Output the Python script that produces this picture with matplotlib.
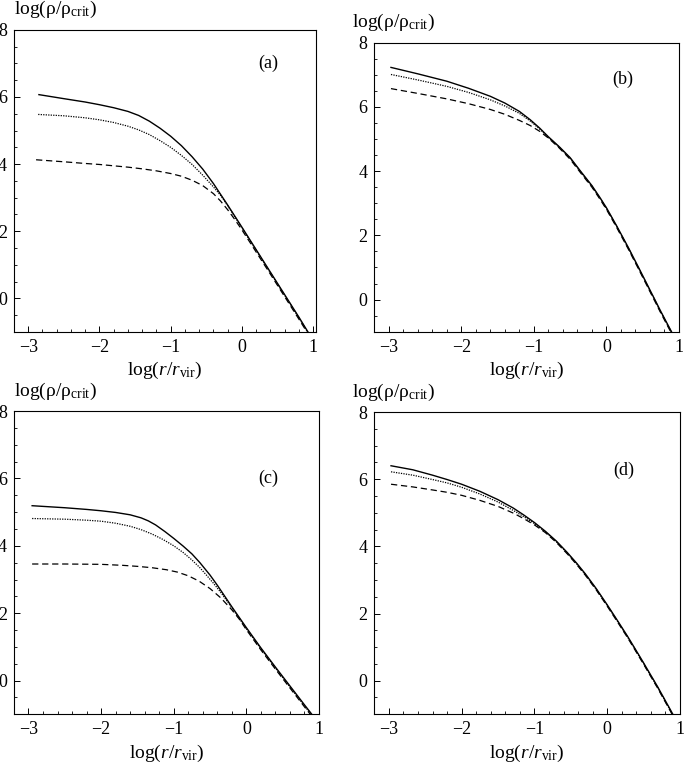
import matplotlib
matplotlib.use("Agg")
import matplotlib.pyplot as plt
from matplotlib.ticker import MultipleLocator

plt.rcParams["font.family"] = ["Liberation Serif", "DejaVu Serif"]
plt.rcParams["mathtext.fontset"] = "custom"
plt.rcParams["mathtext.rm"] = "Liberation Serif"
plt.rcParams["mathtext.it"] = "Liberation Serif:italic"

# panel (a)
a_x_solid = [-2.85, -2.5, -2.2, -2.0, -1.8, -1.6, -1.45, -1.3, -1.15, -1.0, -0.85, -0.7, -0.55, -0.4, -0.2, 0.0, 0.2, 0.4, 0.6, 0.8, 0.95]
a_y_solid = [6.07, 5.95, 5.85, 5.77, 5.68, 5.57, 5.45, 5.28, 5.07, 4.83, 4.55, 4.22, 3.85, 3.42, 2.78, 2.12, 1.45, 0.78, 0.11, -0.56, -1.08]
a_x_dot = [-2.86, -2.5, -2.2, -2.0, -1.8, -1.6, -1.45, -1.3, -1.15, -1.0, -0.85, -0.7, -0.55, -0.4, -0.3, -0.2, 0.0, 0.2, 0.4, 0.6, 0.8, 0.95]
a_y_dot = [5.48, 5.44, 5.38, 5.32, 5.24, 5.13, 5.02, 4.88, 4.70, 4.50, 4.26, 3.99, 3.67, 3.32, 3.07, 2.76, 2.10, 1.43, 0.76, 0.09, -0.58, -1.10]
a_x_dash = [-2.89, -2.5, -2.2, -2.0, -1.8, -1.6, -1.4, -1.2, -1.0, -0.85, -0.7, -0.55, -0.4, -0.3, -0.2, -0.1, 0.0, 0.2, 0.4, 0.6, 0.8, 0.95]
a_y_dash = [4.13, 4.07, 4.02, 3.99, 3.95, 3.91, 3.86, 3.80, 3.72, 3.64, 3.52, 3.36, 3.12, 2.90, 2.64, 2.35, 2.04, 1.38, 0.72, 0.05, -0.62, -1.13]

# panel (b)
b_x_solid = [-2.97, -2.6, -2.2, -1.9, -1.6, -1.4, -1.2, -1.05, -0.92, -0.8, -0.65, -0.5, -0.35, -0.2, -0.09, 0.0, 0.14, 0.3, 0.45, 0.6, 0.75, 0.92]
b_y_solid = [7.23, 7.03, 6.80, 6.58, 6.33, 6.12, 5.86, 5.60, 5.34, 5.07, 4.76, 4.42, 3.98, 3.55, 3.18, 2.86, 2.30, 1.63, 0.97, 0.30, -0.37, -1.10]
b_x_dot = [-2.97, -2.6, -2.2, -1.9, -1.6, -1.4, -1.2, -1.05, -0.92, -0.8, -0.65, -0.5, -0.35, -0.2, -0.09, 0.0, 0.14, 0.3, 0.45, 0.6, 0.75, 0.92]
b_y_dot = [7.01, 6.84, 6.64, 6.45, 6.22, 6.03, 5.80, 5.56, 5.31, 5.05, 4.74, 4.40, 3.96, 3.53, 3.16, 2.84, 2.28, 1.61, 0.95, 0.28, -0.39, -1.12]
b_x_dash = [-2.97, -2.6, -2.2, -1.9, -1.6, -1.4, -1.2, -1.05, -0.92, -0.8, -0.65, -0.5, -0.35, -0.2, -0.09, 0.0, 0.14, 0.3, 0.45, 0.6, 0.75, 0.92]
b_y_dash = [6.57, 6.42, 6.25, 6.10, 5.92, 5.77, 5.58, 5.42, 5.24, 5.03, 4.72, 4.37, 3.93, 3.50, 3.13, 2.81, 2.25, 1.58, 0.92, 0.25, -0.42, -1.15]

# panel (c)
c_x_solid = [-2.95, -2.5, -2.2, -2.0, -1.8, -1.6, -1.45, -1.35, -1.25, -1.12, -1.0, -0.87, -0.75, -0.64, -0.5, -0.4, -0.2, 0.0, 0.2, 0.4, 0.6, 0.8, 0.93]
c_y_solid = [5.19, 5.13, 5.08, 5.04, 4.99, 4.92, 4.83, 4.74, 4.62, 4.42, 4.22, 3.99, 3.76, 3.50, 3.13, 2.83, 2.19, 1.57, 0.97, 0.40, -0.16, -0.72, -1.08]
c_x_dot = [-2.95, -2.5, -2.2, -2.0, -1.8, -1.6, -1.45, -1.3, -1.15, -1.0, -0.87, -0.75, -0.64, -0.55, -0.45, -0.35, -0.2, 0.0, 0.2, 0.4, 0.6, 0.8, 0.93]
c_y_dot = [4.81, 4.79, 4.76, 4.73, 4.67, 4.58, 4.48, 4.35, 4.19, 4.00, 3.80, 3.58, 3.35, 3.13, 2.88, 2.61, 2.16, 1.54, 0.94, 0.37, -0.19, -0.75, -1.11]
c_x_dash = [-2.95, -2.5, -2.0, -1.7, -1.5, -1.3, -1.1, -0.95, -0.8, -0.65, -0.5, -0.35, -0.2, -0.1, 0.0, 0.2, 0.4, 0.6, 0.8, 0.93]
c_y_dash = [3.46, 3.46, 3.45, 3.42, 3.39, 3.35, 3.29, 3.22, 3.11, 2.95, 2.73, 2.45, 2.10, 1.83, 1.51, 0.91, 0.34, -0.22, -0.78, -1.14]

# panel (d)
d_x_solid = [-2.97, -2.67, -2.4, -2.2, -2.0, -1.75, -1.5, -1.29, -1.15, -1.0, -0.85, -0.7, -0.55, -0.42, -0.3, -0.15, 0.0, 0.15, 0.28, 0.4, 0.5, 0.6, 0.69, 0.8, 0.92]
d_y_solid = [6.40, 6.28, 6.12, 5.99, 5.85, 5.64, 5.39, 5.14, 4.94, 4.71, 4.45, 4.16, 3.82, 3.50, 3.18, 2.74, 2.26, 1.76, 1.32, 0.89, 0.53, 0.16, -0.17, -0.60, -1.07]
d_x_dot = [-2.97, -2.67, -2.4, -2.2, -2.0, -1.75, -1.5, -1.29, -1.15, -1.0, -0.85, -0.7, -0.55, -0.42, -0.3, -0.15, 0.0, 0.15, 0.28, 0.4, 0.5, 0.6, 0.69, 0.8, 0.92]
d_y_dot = [6.22, 6.12, 5.99, 5.89, 5.76, 5.56, 5.32, 5.07, 4.89, 4.68, 4.43, 4.14, 3.80, 3.48, 3.16, 2.72, 2.24, 1.74, 1.30, 0.87, 0.51, 0.14, -0.19, -0.62, -1.09]
d_x_dash = [-2.97, -2.67, -2.4, -2.2, -2.0, -1.75, -1.5, -1.29, -1.15, -1.0, -0.85, -0.7, -0.55, -0.42, -0.3, -0.15, 0.0, 0.15, 0.28, 0.4, 0.5, 0.6, 0.69, 0.8, 0.92]
d_y_dash = [5.85, 5.77, 5.68, 5.61, 5.52, 5.37, 5.19, 4.99, 4.83, 4.64, 4.41, 4.12, 3.78, 3.46, 3.14, 2.70, 2.22, 1.72, 1.28, 0.85, 0.49, 0.12, -0.21, -0.64, -1.11]

panels = [
    ("(a)", a_x_solid, a_y_solid, a_x_dot, a_y_dot, a_x_dash, a_y_dash),
    ("(b)", b_x_solid, b_y_solid, b_x_dot, b_y_dot, b_x_dash, b_y_dash),
    ("(c)", c_x_solid, c_y_solid, c_x_dot, c_y_dot, c_x_dash, c_y_dash),
    ("(d)", d_x_solid, d_y_solid, d_x_dot, d_y_dot, d_x_dash, d_y_dash),
]
label_pos = [(0.37, 7.0), (0.22, 6.87), (0.30, 6.0), (0.23, 6.27)]
# [left, bottom, width, height] in figure fractions
boxes = [
    [0.0204, 0.566, 0.441, 0.395],
    [0.5464, 0.5664, 0.4448, 0.3778],
    [0.0204, 0.0663, 0.4453, 0.3964],
    [0.5464, 0.0663, 0.4463, 0.3951],
]
xmax = [1.04, 1.0, 1.0, 1.0]
ylab_dx = [0.0, -22, 0.0, -22]   # pixel offset of y label from axes left

fig = plt.figure(figsize=(6.85, 7.65), dpi=100)
for i, (name, xs, ys, xo, yo, xd, yd) in enumerate(panels):
    ax = fig.add_axes(boxes[i])
    ax.plot(xs, ys, color="black", lw=1.0, ls="-")
    ax.plot(xo, yo, color="black", lw=0.9, ls=(0, (1, 1)))
    ax.plot(xd, yd, color="black", lw=0.9, ls=(0, (5, 3)))
    ax.set_xlim(-3.2, xmax[i])
    ax.set_ylim(-1, 8)
    ax.xaxis.set_major_locator(MultipleLocator(1))
    ax.xaxis.set_minor_locator(MultipleLocator(0.2))
    ax.yaxis.set_major_locator(MultipleLocator(2))
    ax.yaxis.set_minor_locator(MultipleLocator(0.5))
    ax.tick_params(which="both", direction="in", labelsize=13, top=False, right=False)
    ax.tick_params(which="major", length=4, width=0.7, pad=5)
    ax.tick_params(which="minor", length=2.5, width=0.6)
    for s in ax.spines.values():
        s.set_linewidth(0.8)
    ax.text(label_pos[i][0], label_pos[i][1], name, fontsize=13, ha="center", va="center")
    ax.set_xlabel(r"log($r/r_{\rm vir}$)", fontsize=14, labelpad=3)
    bb = boxes[i]
    fig.text(bb[0] + ylab_dx[i] / 685, bb[1] + bb[3] + 20 / 765, r"log(ρ/ρ$_{\rm crit}$)",
             fontsize=14, ha="left", va="center")

fig.savefig("out.png", dpi=100)
